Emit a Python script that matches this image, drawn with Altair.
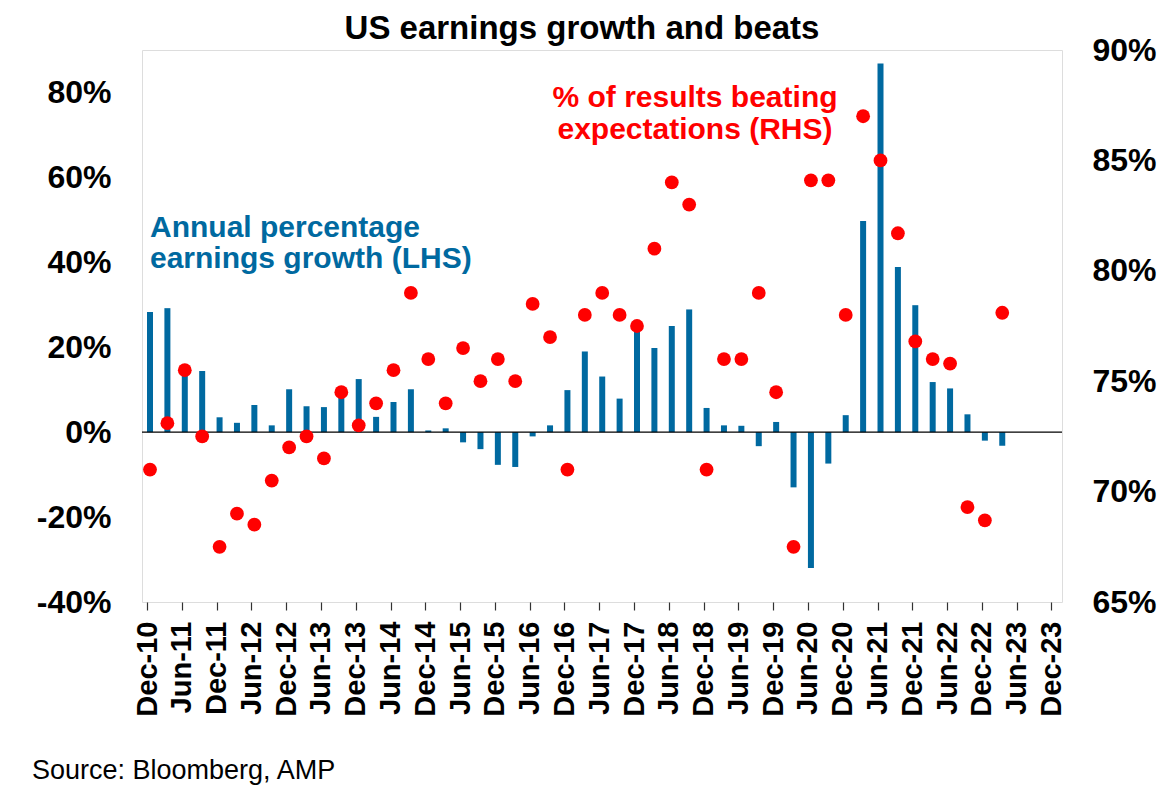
import altair as alt
import pandas as pd

quarters = ["Dec-10", "Mar-11", "Jun-11", "Sep-11", "Dec-11", "Mar-12", "Jun-12", "Sep-12",
            "Dec-12", "Mar-13", "Jun-13", "Sep-13", "Dec-13", "Mar-14", "Jun-14", "Sep-14",
            "Dec-14", "Mar-15", "Jun-15", "Sep-15", "Dec-15", "Mar-16", "Jun-16", "Sep-16",
            "Dec-16", "Mar-17", "Jun-17", "Sep-17", "Dec-17", "Mar-18", "Jun-18", "Sep-18",
            "Dec-18", "Mar-19", "Jun-19", "Sep-19", "Dec-19", "Mar-20", "Jun-20", "Sep-20",
            "Dec-20", "Mar-21", "Jun-21", "Sep-21", "Dec-21", "Mar-22", "Jun-22", "Sep-22",
            "Dec-22", "Mar-23"]

earnings_growth = [28.3, 29.2, 15.0, 14.4, 3.5, 2.2, 6.4, 1.6,
                   10.1, 6.1, 5.9, 8.5, 12.5, 3.6, 7.1, 10.1,
                   0.4, 0.9, -2.4, -4.0, -7.7, -8.2, -1.0, 1.6,
                   9.9, 19.0, 13.1, 7.9, 24.5, 19.8, 25.0, 28.9,
                   5.7, 1.6, 1.5, -3.3, 2.4, -13.0, -32.0, -7.4,
                   4.0, 49.7, 86.8, 38.9, 29.9, 11.8, 10.3, 4.2,
                   -2.0, -3.2]

beat_share = [71.0, 73.1, 75.5, 72.5, 67.5, 69.0, 68.5, 70.5,
              72.0, 72.5, 71.5, 74.5, 73.0, 74.0, 75.5, 79.0,
              76.0, 74.0, 76.5, 75.0, 76.0, 75.0, 78.5, 77.0,
              71.0, 78.0, 79.0, 78.0, 77.5, 81.0, 84.0, 83.0,
              71.0, 76.0, 76.0, 79.0, 74.5, 67.5, 84.1, 84.1,
              78.0, 87.0, 85.0, 81.7, 76.8, 76.0, 75.8, 69.3,
              68.7, 78.1]

left_ticks = [-40, -20, 0, 20, 40, 60, 80]
right_ticks = [65, 70, 75, 80, 85, 90]
x_tick_positions = list(range(0, 53, 2))  # every six months, Dec-10 .. Dec-23

df = pd.DataFrame({
    "quarter": quarters,
    "q": list(range(len(quarters))),
    "growth": earnings_growth,
    "beats": beat_share,
})

FONT = "Liberation Sans, Arial, Helvetica, sans-serif"
BLUE = "#0069A0"
RED = "#FF0000"

x_axis = alt.Axis(
    values=x_tick_positions,
    labelExpr="(datum.value % 4 == 0 ? 'Dec-' : 'Jun-') + (10 + floor((datum.value + 2) / 4))",
    labelAngle=-90,
    labelFontSize=29,
    labelFontWeight="bold",
    labelFont=FONT,
    labelColor="black",
    labelPadding=11,
    labelOverlap=False,
    labelBound=False,
    labelSeparation=0,
    labelFlush=False,
    tickSize=8,
    tickColor="#333333",
    tickWidth=1.2,
    domain=False,
    grid=False,
    title=None,
)
x_scale = alt.Scale(domain=[0, 52.32], nice=False, zero=False)

bars = alt.Chart(df).mark_bar(size=6, xOffset=3, color=BLUE).encode(
    x=alt.X("q:Q", scale=x_scale, axis=x_axis),
    y=alt.Y(
        "growth:Q",
        scale=alt.Scale(domain=[-40, 90], nice=False),
        axis=alt.Axis(
            orient="left",
            values=left_ticks,
            labelExpr="datum.value + '%'",
            labelFontSize=32,
            labelFontWeight="bold",
            labelFont=FONT,
            labelColor="black",
            labelPadding=31,
            ticks=False,
            domain=False,
            grid=False,
            title=None,
        ),
    ),
    y2=alt.datum(0),
)

zero_rule = alt.Chart(pd.DataFrame({"zero": [0]})).mark_rule(color="black", strokeWidth=1.3).encode(
    y=alt.Y("zero:Q", scale=alt.Scale(domain=[-40, 90], nice=False)),
)

dots = alt.Chart(df).mark_circle(size=190, opacity=1, color=RED, xOffset=3).encode(
    x=alt.X("q:Q", scale=x_scale, axis=x_axis),
    y=alt.Y(
        "beats:Q",
        scale=alt.Scale(domain=[65, 90], nice=False, zero=False),
        axis=alt.Axis(
            orient="right",
            values=right_ticks,
            labelExpr="datum.value + '%'",
            labelFontSize=32,
            labelFontWeight="bold",
            labelFont=FONT,
            labelColor="black",
            labelPadding=30,
            ticks=False,
            domain=False,
            grid=False,
            title=None,
        ),
    ),
)

blue_note = alt.Chart(pd.DataFrame({"t": [0]})).mark_text(
    text=["Annual percentage", "earnings growth (LHS)"],
    align="left", baseline="alphabetic", fontSize=30, fontWeight="bold",
    font=FONT, color=BLUE, lineHeight=31,
).encode(x=alt.value(8), y=alt.value(187))

red_note = alt.Chart(pd.DataFrame({"t": [0]})).mark_text(
    text=["% of results beating", "expectations (RHS)"],
    align="center", baseline="alphabetic", fontSize=30, fontWeight="bold",
    font=FONT, color=RED, lineHeight=32,
).encode(x=alt.value(553), y=alt.value(57))

source = alt.Chart(pd.DataFrame({"t": [0]})).mark_text(
    text="Source: Bloomberg, AMP",
    align="left", baseline="alphabetic", fontSize=27,
    font=FONT, color="black",
).encode(x=alt.value(-110), y=alt.value(729))

left_layer = alt.layer(bars, zero_rule)

chart = alt.layer(left_layer, dots, blue_note, red_note, source).resolve_scale(
    y="independent"
).properties(
    width=920,
    height=552,
    title=alt.TitleParams(
        "US earnings growth and beats",
        fontSize=33,
        fontWeight="bold",
        font=FONT,
        color="black",
        anchor="middle",
        dx=-20,
        offset=-12,
    ),
    autosize=alt.AutoSizeParams(type="none"),
    padding={"left": 134, "top": 42, "right": 100, "bottom": 190},
).configure_view(
    stroke="#595959",
    strokeWidth=1.3,
).configure_axis(
    labelOverlap=False,
).configure(
    background="white",
)

chart.save("out.html", embed_options={"renderer": "svg", "actions": False})
